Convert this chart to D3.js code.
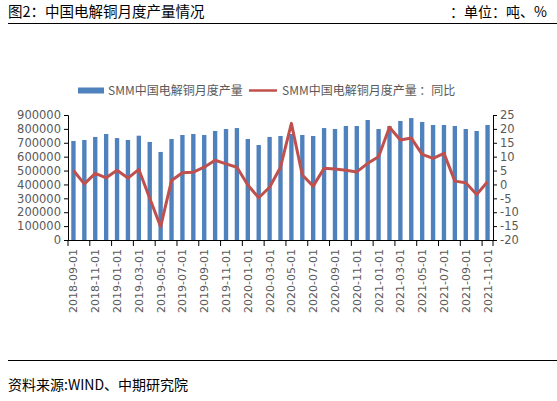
<!DOCTYPE html>
<html>
<head>
<meta charset="utf-8">
<script src="https://cdn.jsdelivr.net/npm/d3@7"></script>
<style>
  body { margin: 0; background: #fff; }
  svg { display: block; }
</style>
</head>
<body>
<svg id="chart" width="557" height="401"></svg>
<script>
// monthly categories, 2018-09 .. 2021-11
const months = [
    "2018-09-01", "2018-10-01", "2018-11-01", "2018-12-01",
    "2019-01-01", "2019-02-01", "2019-03-01", "2019-04-01", "2019-05-01", "2019-06-01",
    "2019-07-01", "2019-08-01", "2019-09-01", "2019-10-01", "2019-11-01", "2019-12-01",
    "2020-01-01", "2020-02-01", "2020-03-01", "2020-04-01", "2020-05-01", "2020-06-01",
    "2020-07-01", "2020-08-01", "2020-09-01", "2020-10-01", "2020-11-01", "2020-12-01",
    "2021-01-01", "2021-02-01", "2021-03-01", "2021-04-01", "2021-05-01", "2021-06-01",
    "2021-07-01", "2021-08-01", "2021-09-01", "2021-10-01", "2021-11-01"
];

// SMM中国电解铜月度产量 (吨)
const output = [
    713000, 720000, 742000, 763000, 734000, 720000, 751000, 706000, 634000, 727000,
    756000, 763000, 756000, 785000, 799000, 806000, 727000, 684000, 742000, 749000,
    763000, 756000, 749000, 806000, 799000, 821000, 821000, 864000, 799000, 821000,
    857000, 878000, 850000, 828000, 828000, 821000, 799000, 785000, 828000
];

// 同比 (%)
const yoy = [
    5, 0.2, 4, 2.4, 5.1, 2.3, 5.4, -5, -15.2, 1.4,
    4.2, 4.4, 6.2, 8.7, 7.4, 6.2, -0.2, -4.8, -1, 6.2,
    22, 3.4, -0.6, 5.8, 5.6, 5.1, 4.5, 7.6, 10, 20.6,
    16, 16.7, 10.8, 9.4, 11.2, 1.2, 0.6, -3.6, 1.0
];

const leftTicks = [0, 100000, 200000, 300000, 400000, 500000, 600000, 700000, 800000, 900000];
const rightTicks = [-20, -15, -10, -5, 0, 5, 10, 15, 20, 25];

const title = "图2：中国电解铜月度产量情况";
const unit = "：单位：吨、%";
const source = "资料来源:WIND、中期研究院";
const seriesNames = ["SMM中国电解铜月度产量", "SMM中国电解铜月度产量 ：同比"];

const W = 557, H = 401;
const plot = { left: 68, right: 493, top: 115, bottom: 240 };
const barColor = "#4f81bd", lineColor = "#c0504d";
const textGray = "#595959";
const cjk = "'Noto Sans CJK SC', 'Noto Sans', sans-serif";
const num = "'DejaVu Sans', sans-serif";

const svg = d3.select("#chart");

// header
svg.append("text").attr("x", 8).attr("y", 17)
    .attr("font-family", cjk).attr("font-size", 14.5).attr("fill", "#000")
    .text(title);
svg.append("text").attr("x", 547).attr("y", 17).attr("text-anchor", "end")
    .attr("font-family", cjk).attr("font-size", 14).attr("fill", "#000")
    .text(unit);
svg.append("line").attr("x1", 8).attr("x2", W).attr("y1", 23.5).attr("y2", 23.5)
    .attr("stroke", "#000").attr("stroke-width", 1.2);

// footer
svg.append("line").attr("x1", 8).attr("x2", W).attr("y1", 360.5).attr("y2", 360.5)
    .attr("stroke", "#000").attr("stroke-width", 1.2);
svg.append("text").attr("x", 8).attr("y", 390)
    .attr("font-family", cjk).attr("font-size", 14).attr("fill", "#000")
    .text(source);

// scales
const x = d3.scaleBand().domain(months).range([plot.left, plot.right]).padding(0);
const yL = d3.scaleLinear().domain([0, 900000]).range([plot.bottom, plot.top]);
const yR = d3.scaleLinear().domain([-20, 25]).range([plot.bottom, plot.top]);
const barW = x.bandwidth() * 0.4;

// bars
svg.append("g").selectAll("rect").data(output).join("rect")
    .attr("x", (d, i) => x(months[i]) + (x.bandwidth() - barW) / 2)
    .attr("y", d => yL(d))
    .attr("width", barW)
    .attr("height", d => yL(0) - yL(d))
    .attr("fill", barColor);

// yoy line
const line = d3.line()
    .x((d, i) => x(months[i]) + x.bandwidth() / 2)
    .y(d => yR(d));
svg.append("path").datum(yoy)
    .attr("d", line)
    .attr("fill", "none")
    .attr("stroke", lineColor)
    .attr("stroke-width", 3)
    .attr("stroke-linejoin", "round");

// left axis
const axL = svg.append("g").attr("transform", `translate(${plot.left},0)`)
    .call(d3.axisLeft(yL).tickValues(leftTicks).tickSize(4).tickPadding(3).tickFormat(d3.format("d")));
// right axis
const axR = svg.append("g").attr("transform", `translate(${plot.right},0)`)
    .call(d3.axisRight(yR).tickValues(rightTicks).tickSize(4).tickPadding(3).tickFormat(d => d < 0 ? "-" + Math.abs(d) : d));
[axL, axR].forEach(ax => {
    ax.select(".domain").attr("stroke", "#000");
    ax.selectAll(".tick line").attr("stroke", "#000");
    ax.selectAll("text").attr("font-family", num).attr("font-size", 11.5).attr("fill", textGray);
});

// bottom axis: ticks every 2 months at band edges, labels at band centres
const xg = svg.append("g");
xg.append("line").attr("x1", plot.left).attr("x2", plot.right)
    .attr("y1", plot.bottom + 0.5).attr("y2", plot.bottom + 0.5).attr("stroke", "#000");
const tickCats = months.filter((m, i) => i % 2 === 0);
xg.selectAll("line.tk").data(tickCats.concat(["end"])).join("line").attr("class", "tk")
    .attr("x1", d => d === "end" ? plot.right : x(d))
    .attr("x2", d => d === "end" ? plot.right : x(d))
    .attr("y1", plot.bottom).attr("y2", plot.bottom + 6)
    .attr("stroke", "#000");
xg.selectAll("text").data(tickCats).join("text")
    .attr("transform", d => `translate(${x(d) + x.bandwidth() / 2 + 4},${plot.bottom + 9}) rotate(-90)`)
    .attr("text-anchor", "end")
    .attr("font-family", num).attr("font-size", 11).attr("fill", textGray)
    .text(d => d);

// legend
const lg = svg.append("g").attr("font-family", cjk).attr("font-size", 12).attr("fill", textGray);
lg.append("rect").attr("x", 78).attr("y", 87.5).attr("width", 26).attr("height", 6).attr("fill", barColor);
lg.append("text").attr("x", 108).attr("y", 94.5).text(seriesNames[0]);
lg.append("line").attr("x1", 249).attr("x2", 277).attr("y1", 90.5).attr("y2", 90.5)
    .attr("stroke", lineColor).attr("stroke-width", 2.5);
lg.append("text").attr("x", 282).attr("y", 94.5).text(seriesNames[1]);
</script>
</body>
</html>
